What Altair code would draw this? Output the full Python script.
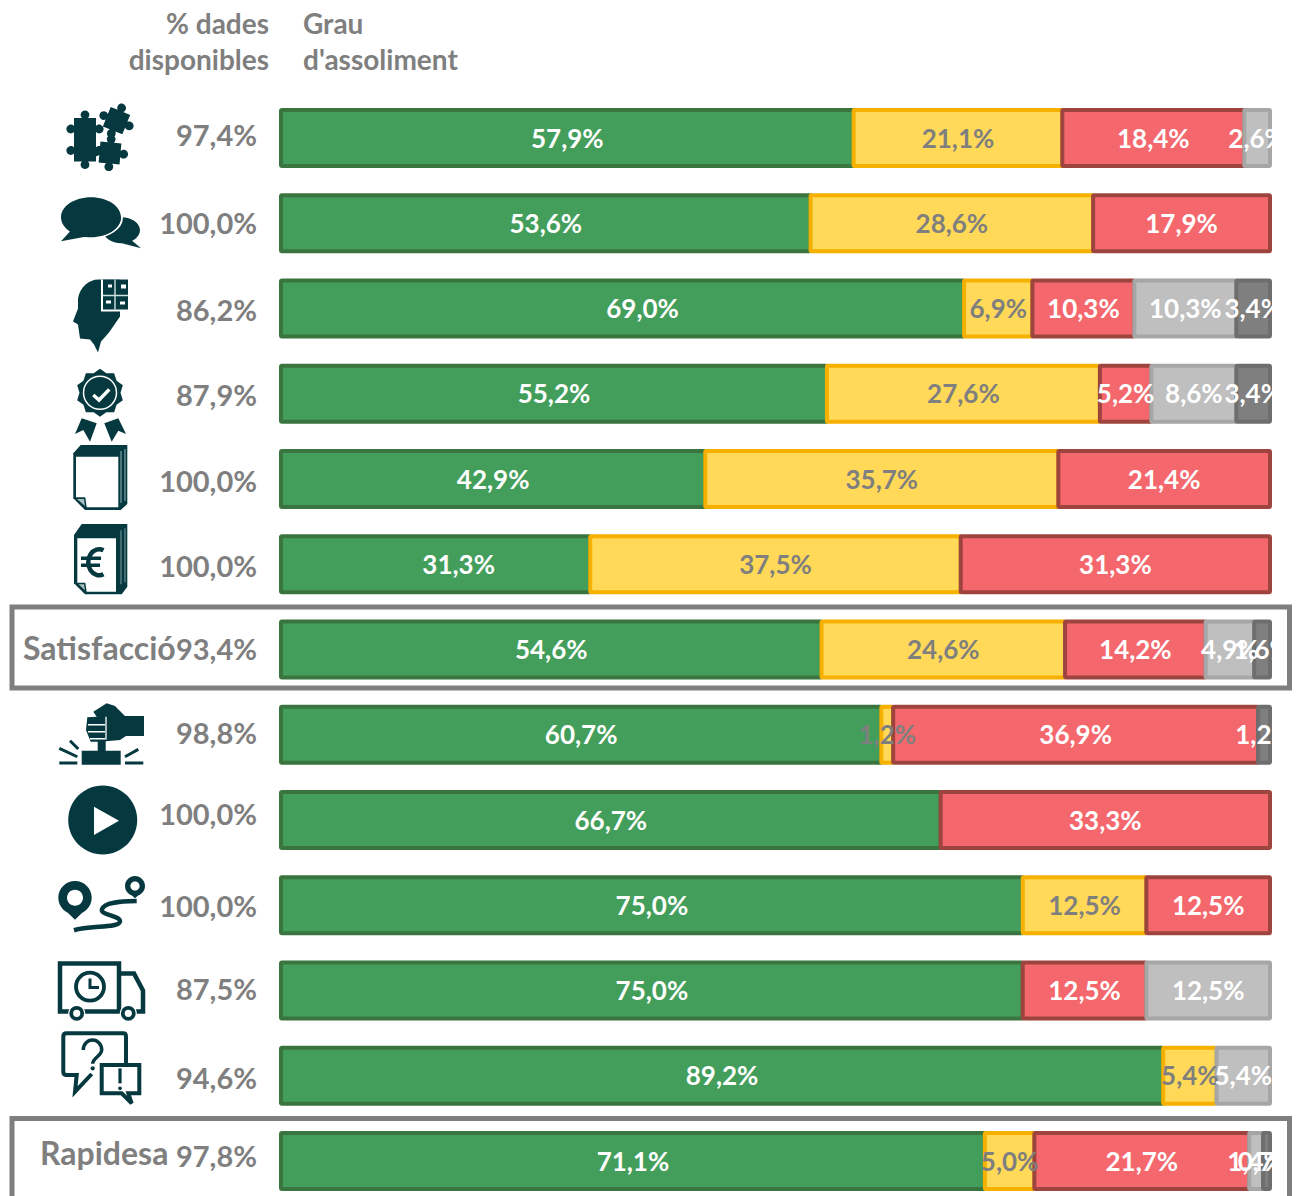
import math
import altair as alt
import pandas as pd

# ---- values ----
SERIES = ["verd", "groc", "vermell", "gris", "gris fosc"]
VERD = [57.9, 53.6, 69.0, 55.2, 42.9, 31.3, 54.6, 60.7, 66.7, 75.0, 75.0, 89.2, 71.1]
GROC = [21.1, 28.6, 6.9, 27.6, 35.7, 37.5, 24.6, 1.2, 0, 12.5, 0, 5.4, 5.0]
VERMELL = [18.4, 17.9, 10.3, 5.2, 21.4, 31.3, 14.2, 36.9, 33.3, 12.5, 12.5, 0, 21.7]
GRIS = [2.6, 0, 10.3, 8.6, 0, 0, 4.9, 0, 0, 0, 12.5, 5.4, 1.4]
GRIS_FOSC = [0, 0, 3.4, 3.4, 0, 0, 1.6, 1.2, 0, 0, 0, 0, 0.7]
DISPONIBLES = ["97,4%", "100,0%", "86,2%", "87,9%", "100,0%", "100,0%", "93,4%",
               "98,8%", "100,0%", "100,0%", "87,5%", "94,6%", "97,8%"]

# ---- styles ----
FILLS = ["#439E5B", "#FFD957", "#F4686D", "#BFBFBF", "#7F7F7F"]
STROKES = ["#3A7540", "#F5B000", "#9E443F", "#A6A6A6", "#6E6E6E"]
TEXTS = ["#FFFFFF", "#7F7F7F", "#FFFFFF", "#FFFFFF", "#FFFFFF"]
GREY = "#7F7F7F"
DARK = "#05393F"
FONT = "Lato"

xs = alt.Scale(domain=[0, 100], range=[273, 1262], nice=False, zero=False, padding=0)
ys = alt.Scale(domain=[0, 12], range=[130, 1153], nice=False, zero=False, padding=0)

records = []
for r, vals in enumerate(zip(VERD, GROC, VERMELL, GRIS, GRIS_FOSC)):
    total, cum = sum(vals), 0.0
    for name, v in zip(SERIES, vals):
        if v > 0:
            start = cum / total * 100
            cum += v
            end = cum / total * 100
            records.append(dict(row=r, series=name, start=start, end=end,
                                mid=(start + end) / 2,
                                label=f"{v:.1f}%".replace(".", ",")))
df = pd.DataFrame(records)


def y_row():
    return alt.Y("row:Q", scale=ys, axis=None)


# ---- icon shapes (size=4 makes one path unit equal one pixel) ----
def ell(cx, cy, rx, ry=None):
    ry = ry if ry is not None else rx
    return (f"M{cx-rx} {cy}A{rx} {ry} 0 1 1 {cx+rx} {cy}"
            f"A{rx} {ry} 0 1 1 {cx-rx} {cy}Z")


def poly(*pts, close=True):
    s = "M" + "L".join(f"{a} {b}" for a, b in pts)
    return s + ("Z" if close else "")


def piece(cx, cy, s, rot, knob=4.4, gap=3.0):
    t = math.radians(rot)
    def P(a, b):
        return (cx + a * math.cos(t) - b * math.sin(t),
                cy + a * math.sin(t) + b * math.cos(t))
    h = s / 2
    corners = [(-h, -h), (h, -h), (h, h), (-h, h)]
    path = "M%.2f %.2f" % P(*corners[0])
    for i in range(4):
        a, b = corners[i], corners[(i + 1) % 4]
        dx, dy = (b[0] - a[0]) / s, (b[1] - a[1]) / s
        mx, my = (a[0] + b[0]) / 2, (a[1] + b[1]) / 2
        path += "L%.2f %.2f" % P(mx - dx * gap, my - dy * gap)
        path += "A%s %s 0 1 1 %.2f %.2f" % (knob, knob, *P(mx + dx * gap, my + dy * gap))
        path += "L%.2f %.2f" % P(*b)
    return path + "Z"


def star(cx, cy, r1, r2, n):
    pts = []
    for i in range(2 * n):
        r = r1 if i % 2 == 0 else r2
        a = math.pi * i / n
        pts.append((round(cx + r * math.sin(a), 2), round(cy - r * math.cos(a), 2)))
    return poly(*pts)


def F(path, color=DARK):
    return ("fill", path, color, 0)


def S(path, width, color=DARK):
    return ("stroke", path, color, width)


ICONS = {
    0: [F(piece(16.5, -17.3, 21, 22)), F(piece(-15, -9, 22, 0)),
        F(piece(-15, 12.5, 22, 0)), F(piece(10, 15, 21, 5))],
    1: [F(ell(21.5, 7, 18.5, 13) + poly((28, 14), (41, 25), (18, 19))),
        S(ell(-9, -6, 31, 20.5), 2, "#FFFFFF"),
        F(ell(-9, -6, 30, 20) + poly((-12, 13), (-39, 18), (-28, 6)))],
    2: [F("M0 -29C-10 -30 -20 -22 -22 -10L-22 0L-27 13L-22 16L-20 30L-10 31L-6 36L-2 44L1 33L9 24L20 8L20 -29Z"),
        F(poly((1, -29), (28, -29), (28, 3), (1, 3)), "#FFFFFF"),
        F(poly((3, -29), (28, -29), (28, 1), (3, 1))),
        S("M15 -29L15 1M3 -13L28 -13", 1.4, "#CFE0E0"),
        F(poly((8, -24), (12, -24), (12, -21), (8, -21)), "#FFFFFF"),
        F(poly((21, -24), (26, -24), (26, -20), (21, -20)), "#FFFFFF"),
        F(poly((6, -8), (11, -8), (11, -5), (6, -5)), "#FFFFFF"),
        F(poly((20, -7), (25, -7), (25, -4), (20, -4)), "#FFFFFF")],
    3: [F(star(0, -1, 24, 20.5, 10)), S(ell(0, -1, 16.5), 1.5, "#FFFFFF"),
        S("M-6.7 1.3L-1 6.3L9.3 -4.4", 3.5, "#FFFFFF"),
        F(poly((-18.3, 24.6), (-25, 40.3), (-16.7, 36.3), (-10, 48), (-3.3, 29.6))),
        F(poly((18.3, 24.6), (26, 40.3), (18.3, 37), (11.7, 48), (4.3, 29.6)))],
    4: [F(poly((-19.3, -34), (27.3, -34), (27.3, 25), (20.7, 31), (-15, 31), (-26.7, 19.3), (-26.7, -25.7))),
        F(poly((-24, -22.3), (18.3, -22.3), (18.3, 28.3), (-13.3, 28.3), (-14.7, 18.3), (-24, 18.3)), "#FFFFFF"),
        F(poly((-23, 20), (-16, 20), (-15, 27)), "#A9C0C2"),
        S("M21 -28L21 24M25 -30L25 22", 1.2, "#7FA0A3")],
    5: [F(poly((-18.3, -40.25), (27.3, -40.25), (27.3, 22.4), (21.7, 30.1), (-15, 30.1), (-26, 19), (-26, -29.25))),
        F(poly((-22.7, -26), (16, -26), (16, 27.4), (-13.3, 27.4), (-14.7, 18.4), (-22.7, 18.4)), "#FFFFFF"),
        F(poly((-21.5, 20), (-16, 20), (-15, 26)), "#A9C0C2"),
        S("M3.5 -14A11 13 0 1 0 3.5 10", 4.5),
        S("M-19 -6L1 -6M-19 1L0 1", 3.5),
        S("M21 -34L21 20M25 -36L25 18", 1, "#7FA0A3")],
    7: [F(poly((-6.7, -23.1), (6.7, -31.4), (15, -28.75), (25, -18.75), (44, -18.75), (44, 1.25),
               (26, 1.25), (20, 5.25), (0, 6.9), (-9.3, 6.9), (-14, -4.75), (-12.7, -17.4), (-3.3, -18))),
        S("M-12 -10L5 -10M-12 -3L5 -3M-10 4L5 4M6 -18L6 5", 1.3, "#FFFFFF"),
        F(poly((-2.3, 6), (5.7, 6), (5.7, 17), (-2.3, 17))),
        F(poly((-18.3, 16), (20.7, 16), (20.7, 30), (-18.3, 30))),
        S("M-40.7 13.6L-22.7 22M-30 6L-21.7 14.3M25 22L38.3 14.6M-40.7 28.25L-22.7 28.25M25 28.25L43.3 28.25", 3)],
    8: [F(ell(2.7, 0, 34.5)), F(poly((-6, -13.3), (19, 0.7), (-6, 15)), "#FFFFFF")],
    9: [F(ell(-25, -7.6, 16.7) + poly((-10, 0), (-25, 14.5), (-40, 0))),
        F(ell(-25, -7.6, 8), "#FFFFFF"),
        F(ell(35, -19.25, 10) + poly((44, -15), (35, -7), (26, -15))),
        F(ell(35, -19.25, 4.6), "#FFFFFF"),
        S("M36.7 -4.25C20 -4 4 -3 2 4C0 10 20 10 20 16C20 23 -10 20 -26 25", 4.5)],
    10: [S(poly((-40, -27), (19, -27), (19, 21), (-40, 21)), 4.5),
         S("M20 -17L34 -17L43 0L43 21L20 21", 4.5),
         S(ell(-10, -3.8, 14), 3.8), S("M-10 -12L-10 -3L-1 -3", 3),
         F(ell(-23.3, 22.8, 8.5), "#FFFFFF"), F(ell(28.3, 22.8, 8.5), "#FFFFFF"),
         S(ell(-23.3, 22.8, 5.5), 3.8), S(ell(28.3, 22.8, 5.5), 3.8)],
    11: [S("M-33.3 -42.4L23.3 -42.4Q26 -42.4 26 -39L26 -12.4M-33.3 -42.4Q-36.7 -42.4 -36.7 -39"
           "L-36.7 -4.1Q-36.7 -0.75 -33.3 -0.75L-23.3 -0.75L-25 16L-8.3 -1.75", 4),
         S(poly((1.7, -10.75), (39.3, -10.75), (39.3, 17.6), (28.3, 17.6), (31.7, 27.6), (21.7, 17.6), (1.7, 17.6)), 4),
         S("M-16.7 -25.75A9.2 10 0 1 1 1.7 -25.75C1.7 -20 -7.3 -18 -7.3 -12", 3.5),
         F(ell(-7.3, -7.4, 2.2)),
         S("M20 -7.4L20 7.6", 3.2), F(ell(20, 12.6, 1.9))],
}

layers = []

# bars
layers.append(
    alt.Chart(df)
    .mark_bar(size=56, orient="horizontal", strokeWidth=4, cornerRadius=1)
    .encode(
        x=alt.X("start:Q", scale=xs, axis=None, stack=None),
        x2="end:Q",
        y=y_row(),
        fill=alt.Fill("series:N", scale=alt.Scale(domain=SERIES, range=FILLS), legend=None),
        stroke=alt.Stroke("series:N", scale=alt.Scale(domain=SERIES, range=STROKES), legend=None),
        order=alt.Order("start:Q"),
    )
)


def bar_labels(frame, dx=0):
    return (
        alt.Chart(frame)
        .mark_text(font=FONT, fontWeight="bold", fontSize=26, baseline="middle",
                   align="center", dy=1.5, dx=dx)
        .encode(
            x=alt.X("mid:Q", scale=xs, axis=None),
            y=y_row(),
            text="label:N",
            color=alt.Color("series:N", scale=alt.Scale(domain=SERIES, range=TEXTS), legend=None),
        )
    )


# bar labels: two green labels sit off-centre in the reference
SHIFTED = {2: 20, 5: 23}
is_shifted = df["row"].isin(list(SHIFTED)) & (df["series"] == "verd")
layers.append(bar_labels(df[~is_shifted]))
for r, dx in SHIFTED.items():
    layers.append(bar_labels(df[is_shifted & (df["row"] == r)], dx=dx))

# white cover so that labels stop at the bar's right end
layers.append(
    alt.Chart(pd.DataFrame({"row": list(range(13))}))
    .mark_bar(size=64, orient="horizontal", color="#FFFFFF")
    .encode(x=alt.value(1264), x2=alt.value(1284), y=y_row())
)

# framing boxes
for top, bottom in [(599, 680), (1110.5, 1230)]:
    layers.append(
        alt.Chart(pd.DataFrame({"k": [0]}))
        .mark_rect(fillOpacity=0, stroke=GREY, strokeWidth=5)
        .encode(x=alt.value(4), x2=alt.value(1281.5), y=alt.value(top), y2=alt.value(bottom))
    )

# % dades disponibles
NUDGE = [-1, 2, 3, 3, 4, 4, 1, 0, -4, 3, 0.5, 4, -3]
for r, (lab, dy) in enumerate(zip(DISPONIBLES, NUDGE)):
    layers.append(
        alt.Chart(pd.DataFrame({"row": [r], "t": [lab]}))
        .mark_text(font=FONT, fontWeight="bold", fontSize=29, align="right",
                   baseline="middle", color=GREY, dy=dy)
        .encode(x=alt.value(249), y=y_row(), text="t:N")
    )

# row titles
for r, t, x_px, dy in [(6, "Satisfacció", 15, 0), (12, "Rapidesa", 32, -6)]:
    layers.append(
        alt.Chart(pd.DataFrame({"row": [r], "t": [t]}))
        .mark_text(font=FONT, fontWeight="bold", fontSize=32, align="left",
                   baseline="middle", color=GREY, dy=dy)
        .encode(x=alt.value(x_px), y=y_row(), text="t:N")
    )

# headers
for t, x_px, y_px, al in [("% dades", 261, 18, "right"), ("disponibles", 261, 54, "right"),
                          ("Grau", 295, 18, "left"), ("d'assoliment", 295, 54, "left")]:
    layers.append(
        alt.Chart(pd.DataFrame({"t": [t]}))
        .mark_text(font=FONT, fontWeight="bold", fontSize=28, align=al, baseline="middle", color=GREY)
        .encode(x=alt.value(x_px), y=alt.value(y_px), text="t:N")
    )

# icons
for r, parts in ICONS.items():
    for kind, path, col, w in parts:
        if kind == "fill":
            mark = alt.Chart(pd.DataFrame({"row": [r]})).mark_point(
                shape=path, size=4, filled=True, fill=col, strokeWidth=0, opacity=1)
        else:
            mark = alt.Chart(pd.DataFrame({"row": [r]})).mark_point(
                shape=path, size=4, filled=False, stroke=col, strokeWidth=w, opacity=1)
        layers.append(mark.encode(x=alt.value(92), y=y_row()))

chart = (
    alt.layer(*layers)
    .properties(width=1284, height=1188, padding=0, background="#FFFFFF",
                autosize=alt.AutoSizeParams(type="none"))
    .configure_view(stroke=None)
)
chart.save("out.html", embed_options={"renderer": "svg", "actions": False})
